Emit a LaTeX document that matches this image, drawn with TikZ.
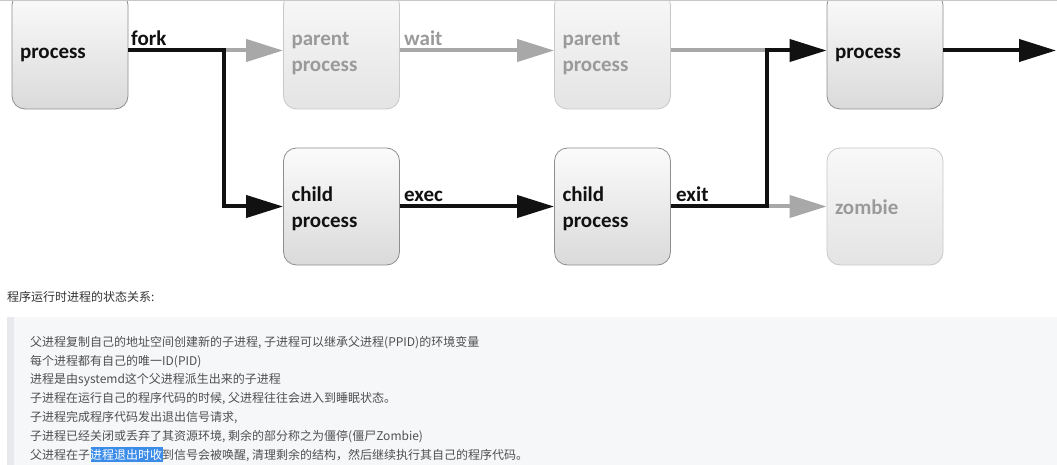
\documentclass[tikz,border=0pt]{standalone}
\usepackage{fontspec}
\setmainfont{Carlito}
\newfontfamily\cjk{Noto Sans CJK SC}
\usetikzlibrary{arrows.meta}
\definecolor{dark}{HTML}{111111}
\definecolor{boxline}{HTML}{8E8E8E}
\definecolor{boxtop}{HTML}{FBFBFB}
\definecolor{boxbot}{HTML}{DADADA}
\definecolor{gline}{HTML}{C8C8C8}
\definecolor{gtop}{HTML}{F8F8F8}
\definecolor{gbot}{HTML}{E4E4E4}
\definecolor{gtext}{HTML}{9A9A9A}
\definecolor{garrow}{HTML}{A8A8A8}
\definecolor{topline}{HTML}{C8C8C8}
\definecolor{blockbg}{HTML}{F6F7F9}
\definecolor{stripe}{HTML}{E7E9EC}
\definecolor{notetext}{HTML}{505050}
\definecolor{titletext}{HTML}{333333}
\definecolor{selbg}{HTML}{3A8CE8}
\newcommand\bxst{\rule[-4.8pt]{0pt}{26pt}}
\begin{document}
\begin{tikzpicture}[x=1pt,y=1pt,
  box/.style={rectangle, rounded corners=13pt, draw=boxline, line width=0.8pt,
    top color=boxtop, bottom color=boxbot, minimum height=117pt,
    text width=100pt, inner xsep=8pt, inner ysep=0pt, align=left,
    font=\bfseries\fontsize{21}{26}\selectfont, text=dark},
  gbox/.style={box, draw=gline, top color=gtop, bottom color=gbot, text=gtext},
  lbl/.style={inner sep=0pt, font=\bfseries\fontsize{21}{26}\selectfont, text=dark, anchor=base west},
  tipk/.style={-{Triangle[length=37pt,width=22pt]}},
  blk/.style={draw=dark, line width=4pt},
  gry/.style={draw=garrow, line width=4pt},
  note/.style={inner sep=0pt, anchor=base west, font=\cjk\fontsize{12}{14}\selectfont, text=notetext}
]
\useasboundingbox (0,0) rectangle (1057,-465);
\clip (0,0) rectangle (1057,-465);
\fill[white] (0,0) rectangle (1057,-465);

% boxes
\node (p0)  [box]  at (70,-50.5)    {\bxst process};
\node (pp1) [gbox] at (341.5,-50.5) {\bxst parent\\process\bxst};
\node (pp2) [gbox] at (612.5,-50.5) {\bxst parent\\process\bxst};
\node (p1)  [box]  at (885,-50.5)   {\bxst process};
\node (c1)  [box]  at (341.5,-206.5){\bxst child\\process\bxst};
\node (c2)  [box]  at (612.5,-206.5){\bxst child\\process\bxst};
\node (z)   [gbox] at (885,-206.5)  {\bxst zombie};

\coordinate (fk) at (224,-50.5);
\coordinate (jx) at (767,-206.5);
\coordinate (out) at (1056,-50.5);

% gray connectors first
\draw[gry,tipk] (fk) -- (pp1.west);
\draw[gry,tipk] (pp1.east) -- (pp2.west);
\draw[gry] (pp2.east) -- (jx |- pp2.east);
\draw[gry,tipk] (jx) -- (z.west);

% black connectors
\draw[blk,tipk] (p0.east) -- (fk) |- (c1.west);
\draw[blk,tipk] (c1.east) -- (c2.west);
\draw[blk,tipk] (c2.east) -- (jx) |- (p1.west);
\draw[blk,tipk] (p1.east) -- (out);

% labels
\node (lfork) [lbl] at (131,-46) {fork};
\node (lwait) [lbl, text=gtext] at (404,-46) {wait};
\node (lexec) [lbl] at (404,-201.5) {exec};
\node (lexit) [lbl] at (676,-201.5) {exit};

\draw[topline, line width=1pt] (0,-0.5) -- (1057,-0.5);

% notes section
\node (title) [note, text=titletext] at (7,-301) {程序运行时进程的状态关系:};
\fill[blockbg] (7,-317) rectangle (1057,-465);
\fill[stripe] (7,-317) rectangle (14,-465);
\fill[selbg] (91,-447) rectangle (163,-462);
\node (n1) [note] at (30,-346) {父进程复制自己的地址空间创建新的子进程, 子进程可以继承父进程(PPID)的环境变量};
\node (n2) [note] at (30,-365) {每个进程都有自己的唯一ID(PID)};
\node (n3) [note] at (30,-383.5) {进程是由systemd这个父进程派生出来的子进程};
\node (n4) [note] at (30,-402) {子进程在运行自己的程序代码的时候, 父进程往往会进入到睡眠状态。};
\node (n5) [note] at (30,-421) {子进程完成程序代码发出退出信号请求,};
\node (n6) [note] at (30,-440) {子进程已经关闭或丢弃了其资源环境, 剩余的部分称之为僵停(僵尸Zombie)};
\node (n7) [note] at (30,-459) {父进程在子{\color{white}进程退出时收}到信号会被唤醒, 清理剩余的结构，然后继续执行其自己的程序代码。};
\end{tikzpicture}
\end{document}
